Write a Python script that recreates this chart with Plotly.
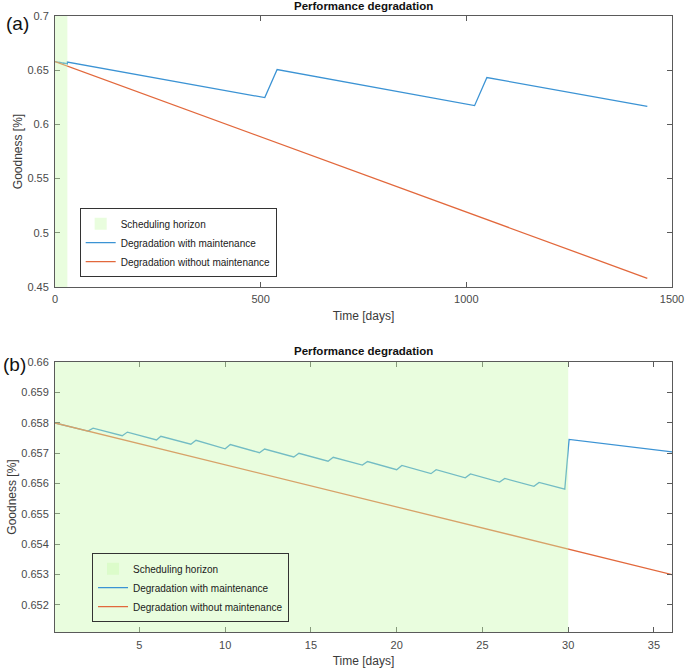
import plotly.graph_objects as go

# ---- data ----
horizon_days = [0, 30]

t_with = [0, 2.0, 2.3, 4.0, 4.3, 6.0, 6.25, 8.0, 8.3, 10.0, 10.3, 12.0, 12.3,
          14.0, 14.3, 16.0, 16.3, 18.0, 18.3, 20.0, 20.3, 22.0, 22.3, 24.0, 24.3,
          26.0, 26.3, 28.0, 28.3, 29.8, 30.05, 510, 540, 1020, 1050, 1440]
g_with = [0.65800, 0.65772, 0.65782, 0.65757, 0.65769, 0.65743, 0.65755,
          0.65729, 0.65742, 0.65714, 0.65728, 0.65701, 0.65713, 0.65687, 0.65699,
          0.65673, 0.65686, 0.65660, 0.65672, 0.65645, 0.65659, 0.65632, 0.65645,
          0.65618, 0.65631, 0.65604, 0.65616, 0.65590, 0.65603, 0.65581, 0.65745,
          0.6247, 0.6506, 0.6173, 0.6432, 0.6167]

t_without = [0, 1440]
g_without = [0.658, 0.458]

top_xticks = [0, 500, 1000, 1500]
top_yticks = [0.45, 0.5, 0.55, 0.6, 0.65, 0.7]
bot_xticks = [5, 10, 15, 20, 25, 30, 35]
bot_yticks = [0.652, 0.653, 0.654, 0.655, 0.656, 0.657, 0.658, 0.659, 0.66]
bot_ylabels = ["0.652", "0.653", "0.654", "0.655", "0.656", "0.657", "0.658", "0.659", "0.66"]

names = ["Scheduling horizon", "Degradation with maintenance", "Degradation without maintenance"]
title_text = "Performance degradation"
panel_labels = ["(a)", "(b)"]
x_title = "Time [days]"
y_title = "Goodness [%]"

BLUE = "#3b93d4"
ORANGE = "#e2683c"
GREEN_FILL = "rgba(200,250,172,0.4)"
AXIS = "#5a5a5a"
FAM = "Liberation Sans, Arial, sans-serif"
TICKF = dict(family=FAM, size=11, color="#4a4a4a")

fig = go.Figure()

for xa, ya, leg in [("x", "y", "legend"), ("x2", "y2", "legend2")]:
    fig.add_trace(go.Scatter(x=t_with, y=g_with, mode="lines", name=names[1],
                             line=dict(color=BLUE, width=1.3), legend=leg, legendrank=2,
                             xaxis=xa, yaxis=ya))
    fig.add_trace(go.Scatter(x=t_without, y=g_without, mode="lines", name=names[2],
                             line=dict(color=ORANGE, width=1.3), legend=leg, legendrank=3,
                             xaxis=xa, yaxis=ya))
    fig.add_shape(type="rect", xref=xa, yref=ya + " domain",
                  x0=horizon_days[0], x1=horizon_days[1], y0=0, y1=1,
                  fillcolor=GREEN_FILL, line=dict(width=0), layer="above",
                  showlegend=True, name=names[0], legend=leg, legendrank=1)

axis_common = dict(showline=True, linecolor=AXIS, linewidth=1, mirror="ticks",
                   ticks="inside", ticklen=5, tickcolor=AXIS, showgrid=False,
                   zeroline=False, tickfont=TICKF, automargin=False)
lab_font = dict(family=FAM, size=12, color="#3a3a3a")

top_dom = [0.5601, 1.0]
bot_dom = [0.0, 0.4383]

fig.update_layout(
    xaxis=dict(domain=[0, 1], anchor="y", range=[0, 1500], tickvals=top_xticks,
               ticklabelstandoff=2, title=dict(text=x_title, font=lab_font, standoff=7),
               **axis_common),
    yaxis=dict(domain=top_dom, anchor="x", range=[0.45, 0.7], tickvals=top_yticks,
               ticklabelstandoff=3, title=dict(text=y_title, font=lab_font, standoff=2),
               **axis_common),
    xaxis2=dict(domain=[0, 1], anchor="y2", range=[0.08, 36.05], tickvals=bot_xticks,
                ticklabelstandoff=3, title=dict(text=x_title, font=lab_font, standoff=6),
                **axis_common),
    yaxis2=dict(domain=bot_dom, anchor="x2", range=[0.6511, 0.66], tickvals=bot_yticks,
                ticktext=bot_ylabels, ticklabelstandoff=3,
                title=dict(text=y_title, font=lab_font, standoff=2), **axis_common),
)

leg_common = dict(font=dict(family=FAM, size=10, color="#1a1a1a"),
                  bordercolor="#333333", borderwidth=1, xanchor="left", yanchor="top",
                  tracegroupgap=0, itemwidth=30, traceorder="normal")
fig.update_layout(
    legend=dict(x=0.04, y=0.688, bgcolor="white", **leg_common),
    legend2=dict(x=0.06, y=0.128, bgcolor="rgba(0,0,0,0)", **leg_common),
)

title_font = dict(family=FAM, size=11.5, color="#111111")
lbl_font = dict(family=FAM, size=19, color="#111111")
fig.add_annotation(text="<b>%s</b>" % title_text, xref="x domain", yref="y domain", x=0.5,
                   y=1.0, yanchor="bottom", yshift=2, showarrow=False, font=title_font)
fig.add_annotation(text="<b>%s</b>" % title_text, xref="x2 domain", yref="y2 domain", x=0.5,
                   y=1.0, yanchor="bottom", yshift=3, showarrow=False, font=title_font)
fig.add_annotation(text=panel_labels[0], xref="paper", yref="y domain", x=-0.083, xanchor="left",
                   y=1.0, yanchor="middle", yshift=-7, showarrow=False, font=lbl_font)
fig.add_annotation(text=panel_labels[1], xref="paper", yref="y2 domain", x=-0.088, xanchor="left",
                   y=1.0, yanchor="middle", yshift=-2, showarrow=False, font=lbl_font)

fig.update_layout(width=685, height=668, margin=dict(l=55, r=13, t=16, b=36, autoexpand=False),
                  paper_bgcolor="white", plot_bgcolor="white")

fig.write_html("out.html", config={"displayModeBar": False},
               post_script="document.body.style.margin='0px';document.body.style.overflow='hidden';")
